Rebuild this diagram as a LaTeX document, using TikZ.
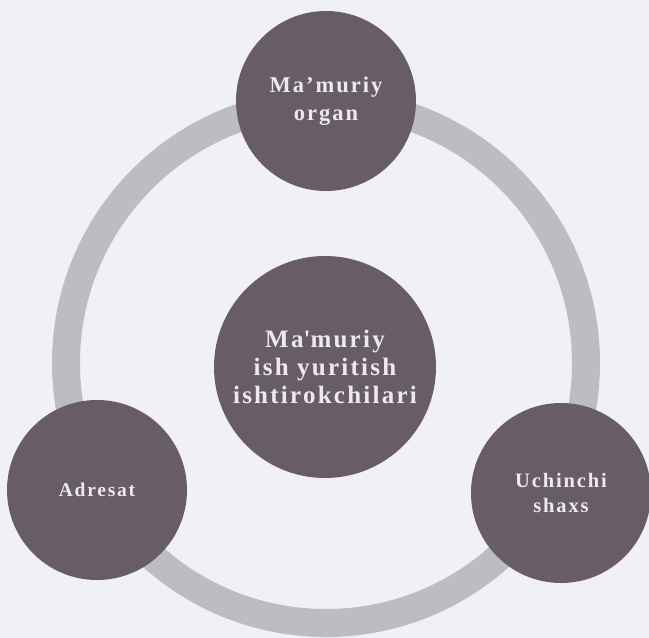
\documentclass[tikz,border=0pt]{standalone}
\usepackage{fontspec}
\newfontfamily\lblfont{Liberation Serif}[LetterSpace=9]
\definecolor{bgc}{HTML}{F1F0F4}
\definecolor{ringc}{HTML}{BDBCC2}
\definecolor{discc}{HTML}{685D64}
\definecolor{txtc}{HTML}{ECEAEE}
\tikzset{
  disc/.style={circle, fill=discc, draw=none, inner sep=0pt, text=txtc, align=center,
    font=\lblfont\bfseries},
  ringline/.style={draw=ringc, line width=28pt},
}
\begin{document}
\begin{tikzpicture}[x=1pt, y=-1pt]
  \fill[bgc] (0,0) rectangle (649,638);
  \useasboundingbox (0,0) rectangle (649,638);
  \coordinate (ctr) at (326,363);
  \draw[ringline] (ctr) circle (260pt);
  \node[disc, minimum size=180pt, font=\lblfont\bfseries\fontsize{22.5}{28}\selectfont] (top) at (326,101) {Ma’muriy\\organ};
  \node[disc, minimum size=180pt, font=\lblfont\bfseries\fontsize{19.5}{24}\selectfont] (left) at (97,490) {Adresat};
  \node[disc, minimum size=180pt, font=\lblfont\bfseries\fontsize{20.5}{25}\selectfont] (right) at (561,493) {Uchinchi\\shaxs};
  \node[disc, minimum size=222pt, font=\lblfont\bfseries\fontsize{25}{28}\selectfont] (mid) at (325,367) {Ma\textquotesingle muriy\\ish yuritish\\ishtirokchilari};
\end{tikzpicture}
\end{document}
